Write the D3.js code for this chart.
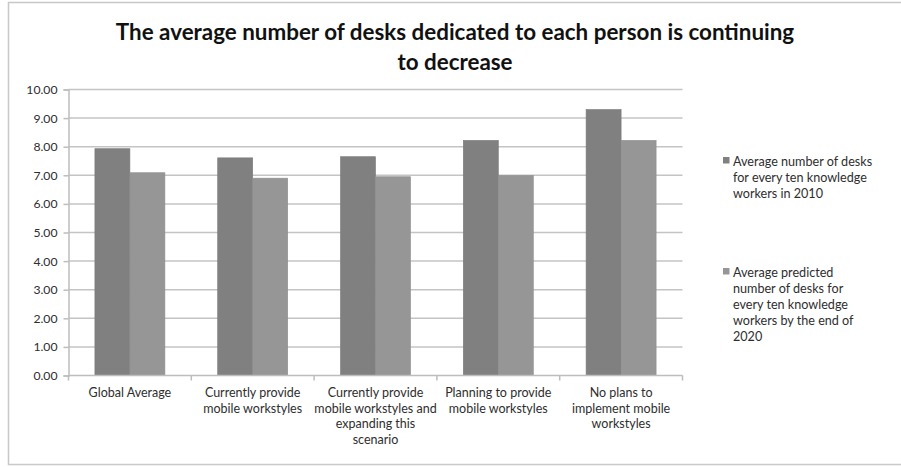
<!DOCTYPE html>
<html>
<head>
<meta charset="utf-8">
<script src="https://cdn.jsdelivr.net/npm/d3@7"></script>
<style>
  html, body { margin: 0; padding: 0; background: #fff; }
  svg { display: block; }
</style>
</head>
<body>
<script>
// Desk ratios by mobile-workstyle adoption stage
const categories = [
  ["Global Average"],
  ["Currently provide", "mobile workstyles"],
  ["Currently provide", "mobile workstyles and", "expanding this", "scenario"],
  ["Planning to provide", "mobile workstyles"],
  ["No plans to", "implement mobile", "workstyles"]
];
const desks2010 = [7.93, 7.61, 7.65, 8.22, 9.30];
const desks2020 = [7.09, 6.90, 6.95, 6.99, 8.22];
const seriesNames = [
  ["Average number of desks", "for every ten knowledge", "workers in 2010"],
  ["Average predicted", "number of desks for", "every ten knowledge", "workers by the end of", "2020"]
];
const yTicks = [0, 1, 2, 3, 4, 5, 6, 7, 8, 9, 10];
const titleLines = [
  "The average number of desks dedicated to each person is continuing",
  "to decrease"
];

const W = 901, H = 467;
const colors = ["#808080", "#969696"];
const font = "Lato, 'Open Sans', sans-serif";
const textColor = "#2e2e2e";

const svg = d3.select("body").append("svg")
  .attr("width", W).attr("height", H);

// outer chart frame
svg.append("rect")
  .attr("x", 8.5).attr("y", 2.5)
  .attr("width", W + 10).attr("height", 462)
  .attr("fill", "#fff").attr("stroke", "#c8c8c8").attr("stroke-width", 1.5);

const plot = { left: 68.5, right: 682.5, top: 89.5, bottom: 375.5 };

const x0 = d3.scaleBand()
  .domain(d3.range(categories.length))
  .range([plot.left, plot.right])
  .paddingInner(0.43).paddingOuter(0.215);
const x1 = d3.scaleBand().domain([0, 1]).range([0, x0.bandwidth()]);
const y = d3.scaleLinear().domain([0, 10]).range([plot.bottom, plot.top]);

// gridlines
svg.append("g").selectAll("line").data(yTicks.filter(d => d > 0)).join("line")
  .attr("x1", plot.left).attr("x2", plot.right)
  .attr("y1", d => y(d)).attr("y2", d => y(d))
  .attr("stroke", "#c4c4c4").attr("stroke-width", 1.5);

// bars
const rows = categories.map((c, i) => [desks2010[i], desks2020[i]]);
svg.append("g").selectAll("g").data(rows).join("g")
  .attr("transform", (d, i) => `translate(${x0(i)},0)`)
  .selectAll("rect").data(d => d).join("rect")
  .attr("x", (d, j) => x1(j))
  .attr("width", x1.bandwidth())
  .attr("y", d => y(d))
  .attr("height", d => y(0) - y(d))
  .attr("fill", (d, j) => colors[j])
  .attr("stroke", (d, j) => j === 0 ? "#7a7a7a" : "#8e8e8e")
  .attr("stroke-width", 0.6);

// y axis
const yAxis = svg.append("g")
  .attr("transform", `translate(${plot.left},0)`)
  .call(d3.axisLeft(y).tickValues(yTicks).tickSize(5).tickFormat(d3.format(".2f")));
yAxis.select(".domain").attr("stroke", "#bdbdbd").attr("stroke-width", 1.5);
yAxis.selectAll(".tick line").attr("stroke", "#bdbdbd").attr("stroke-width", 1.5);
yAxis.selectAll("text")
  .attr("font-family", font).attr("font-size", 12.2).attr("fill", textColor)
  .attr("x", -11);

// x axis with category boundary ticks
const xg = svg.append("g");
xg.append("line")
  .attr("x1", plot.left).attr("x2", plot.right)
  .attr("y1", plot.bottom).attr("y2", plot.bottom)
  .attr("stroke", "#bdbdbd").attr("stroke-width", 1.5);
const step = (plot.right - plot.left) / categories.length;
xg.selectAll("line.tk").data(d3.range(categories.length + 1)).join("line")
  .attr("class", "tk")
  .attr("x1", i => plot.left + i * step).attr("x2", i => plot.left + i * step)
  .attr("y1", plot.bottom).attr("y2", plot.bottom + 5)
  .attr("stroke", "#bdbdbd").attr("stroke-width", 1.5);

// category labels
categories.forEach((lines, i) => {
  const cx = x0(i) + x0.bandwidth() / 2;
  const t = svg.append("text")
    .attr("text-anchor", "middle")
    .attr("font-family", font).attr("font-size", 12.5).attr("fill", textColor);
  lines.forEach((ln, k) => {
    t.append("tspan").attr("x", cx).attr("y", 397 + k * 15.5).text(ln);
  });
});

// title
titleLines.forEach((ln, k) => {
  svg.append("text")
    .attr("x", 455).attr("y", 40 + k * 30)
    .attr("text-anchor", "middle")
    .attr("font-family", font).attr("font-weight", "bold")
    .attr("font-size", 22.4).attr("fill", "#111")
    .text(ln);
});

// legend
const legendTop = [166, 277];
seriesNames.forEach((lines, j) => {
  svg.append("rect")
    .attr("x", 723).attr("y", legendTop[j] - 9)
    .attr("width", 6.5).attr("height", 6.5)
    .attr("fill", colors[j]);
  const t = svg.append("text")
    .attr("font-family", font).attr("font-size", 12.6).attr("fill", textColor);
  lines.forEach((ln, k) => {
    t.append("tspan").attr("x", 733).attr("y", legendTop[j] + k * 16).text(ln);
  });
});
</script>
</body>
</html>
